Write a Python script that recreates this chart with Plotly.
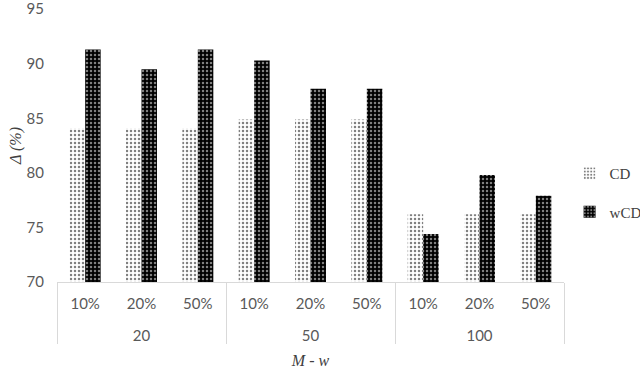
import plotly.graph_objects as go

groups = ["20", "20", "20", "50", "50", "50", "100", "100", "100"]
subcats = ["10%", "20%", "50%", "10%", "20%", "50%", "10%", "20%", "50%"]
cd_values = [84.1, 84.1, 84.1, 84.9, 84.9, 84.9, 76.2, 76.2, 76.2]
wcd_values = [91.3, 89.5, 91.3, 90.3, 87.7, 87.7, 74.4, 79.8, 77.9]
y_ticks = [70, 75, 80, 85, 90, 95]

# extra line break pushes the group labels further below the category labels
group_labels = ["<br>" + g for g in groups]

fig = go.Figure()
fig.add_trace(go.Bar(
    x=[group_labels, subcats], y=cd_values, name="CD", legendgroup="a",
    marker=dict(color="white", line=dict(width=0),
                pattern=dict(shape=".", fgcolor="black", bgcolor="white", size=4, solidity=0.3)),
))
fig.add_trace(go.Bar(
    x=[group_labels, subcats], y=wcd_values, name="wCD", legendgroup="b",
    marker=dict(color="black", line=dict(width=0),
                pattern=dict(shape=".", fgcolor="white", bgcolor="black", size=4, solidity=0.3)),
))

fig.update_layout(
    width=640, height=370,
    margin=dict(l=57, r=76, t=9, b=88, autoexpand=False),
    plot_bgcolor="white", paper_bgcolor="white",
    barmode="group", bargap=0.45, bargroupgap=0,
    font=dict(family="Lato", color="#595959", size=15),
    legend=dict(xref="container", yref="container", x=0.89, y=0.48,
                yanchor="middle", xanchor="left",
                font=dict(family="Liberation Serif", size=15, color="#404040"),
                tracegroupgap=16, itemwidth=30),
    showlegend=True,
)
fig.update_yaxes(range=[70, 95.02], tickvals=y_ticks, showgrid=False, zeroline=False,
                 showline=False, ticks="", automargin=False, ticklabelstandoff=12,
                 ticklabeloverflow="allow",
                 title=dict(text="<i>Δ (%)</i>", font=dict(family="Liberation Serif", size=16, color="#404040"), standoff=0))
fig.update_xaxes(showline=True, linecolor="#d9d9d9", linewidth=1, ticks="", automargin=False,
                 ticklabelstandoff=8, ticklabeloverflow="allow",
                 showdividers=True, dividercolor="#d9d9d9", dividerwidth=1,
                 title=dict(text="<i>M - w</i>", font=dict(family="Liberation Serif", size=16, color="#404040"), standoff=12))

fig.write_html("out.html", config={"displayModeBar": False},
               post_script="document.body.style.margin='0';")
